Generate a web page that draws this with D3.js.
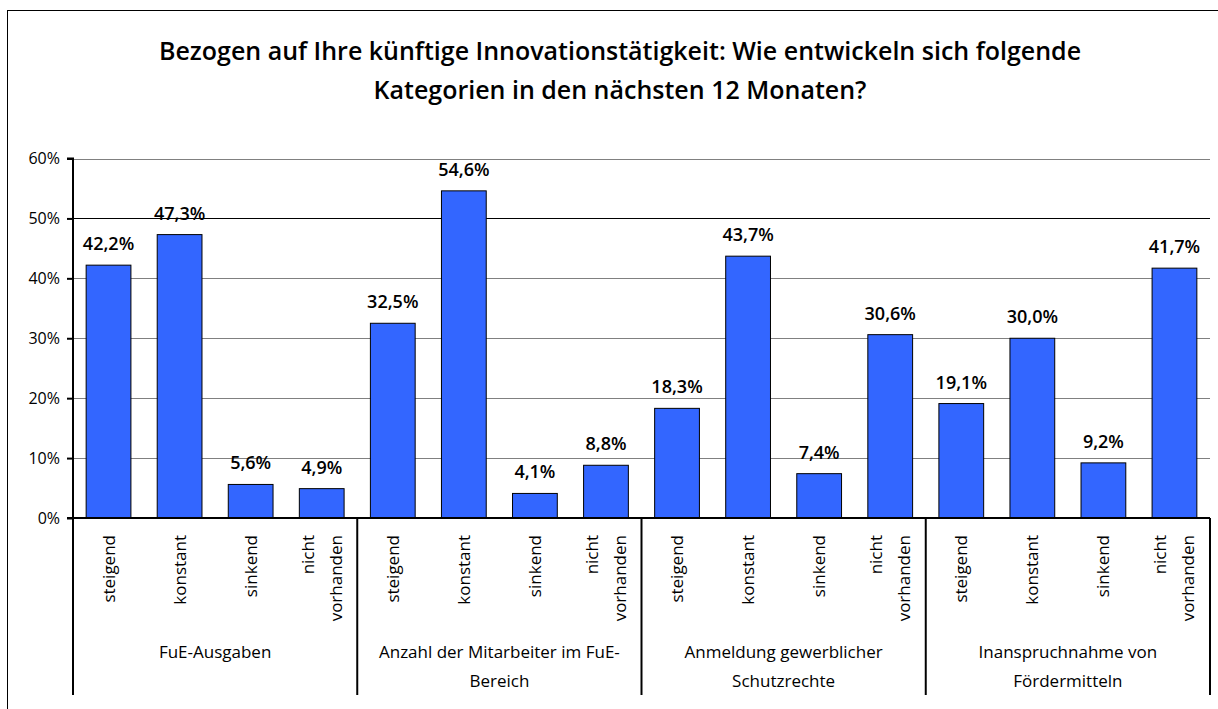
<!DOCTYPE html>
<html>
<head>
<meta charset="utf-8">
<script src="https://cdn.jsdelivr.net/npm/d3@7"></script>
<style>
  body { margin: 0; background: #fff; }
  text { font-family: "Open Sans", sans-serif; fill: #000; }
</style>
</head>
<body>
<div id="chart"></div>
<script>
// chart data
const groups = ["FuE-Ausgaben", "Anzahl der Mitarbeiter im FuE-Bereich", "Anmeldung gewerblicher Schutzrechte", "Inanspruchnahme von Fördermitteln"];
const groupLines = [["FuE-Ausgaben"], ["Anzahl der Mitarbeiter im FuE-", "Bereich"], ["Anmeldung gewerblicher", "Schutzrechte"], ["Inanspruchnahme von", "Fördermitteln"]];
const answers = ["steigend", "konstant", "sinkend", "nicht vorhanden"];
const answerLines = [["steigend"], ["konstant"], ["sinkend"], ["nicht", "vorhanden"]];
const values = [
  [42.2, 47.3, 5.6, 4.9],
  [32.5, 54.6, 4.1, 8.8],
  [18.3, 43.7, 7.4, 30.6],
  [19.1, 30.0, 9.2, 41.7]
];
const yTicks = [0, 10, 20, 30, 40, 50, 60];
const titleLines = ["Bezogen auf Ihre künftige Innovationstätigkeit: Wie entwickeln sich folgende", "Kategorien in den nächsten 12 Monaten?"];

const width = 1218, height = 709;
const plotLeft = 73, plotRight = 1210, plotTop = 158.5, plotBottom = 518;

const rows = [];
groups.forEach((g, gi) => {
  answers.forEach((a, ai) => {
    rows.push({ key: gi + "-" + ai, group: gi, answer: ai, value: values[gi][ai] });
  });
});

const svg = d3.select("#chart").append("svg")
  .attr("width", width)
  .attr("height", height);

// outer frame
svg.append("rect")
  .attr("x", 7.5).attr("y", 10.5)
  .attr("width", 1300).attr("height", 800)
  .attr("fill", "none").attr("stroke", "#000").attr("stroke-width", 1);

svg.append("g").selectAll("text")
  .data(titleLines)
  .enter().append("text")
  .attr("x", 620)
  .attr("y", (d, i) => 60 + i * 38.5)
  .attr("text-anchor", "middle")
  .attr("font-size", 25)
  .attr("font-weight", 600)
  .text(d => d);

const x = d3.scaleBand()
  .domain(rows.map(d => d.key))
  .range([plotLeft, plotRight])
  .paddingInner(0.37)
  .paddingOuter(0.185);

const xg = d3.scaleBand()
  .domain(groups)
  .range([plotLeft, plotRight]);

const y = d3.scaleLinear()
  .domain([0, 60])
  .range([plotBottom, plotTop]);

// gridlines
svg.append("g").selectAll("line")
  .data(yTicks.filter(d => d > 0))
  .enter().append("line")
  .attr("x1", plotLeft).attr("x2", plotRight)
  .attr("y1", d => Math.round(y(d)) + 0.5).attr("y2", d => Math.round(y(d)) + 0.5)
  .attr("stroke", d => d === 50 ? "#000" : "#808080").attr("stroke-width", 1);

// bars
svg.append("g").selectAll("rect")
  .data(rows)
  .enter().append("rect")
  .attr("x", d => x(d.key))
  .attr("y", d => y(d.value))
  .attr("width", x.bandwidth())
  .attr("height", d => y(0) - y(d.value))
  .attr("fill", "#3366ff")
  .attr("stroke", "#000")
  .attr("stroke-width", 1);

// value labels
svg.append("g").selectAll("text")
  .data(rows)
  .enter().append("text")
  .attr("x", d => x(d.key) + x.bandwidth() / 2)
  .attr("y", d => y(d.value) - 15)
  .attr("text-anchor", "middle")
  .attr("font-size", 18)
  .attr("font-weight", 600)
  .text(d => d.value.toFixed(1).replace(".", ",") + "%");

// y axis
const yAxis = svg.append("g")
  .attr("transform", `translate(${plotLeft},0)`)
  .call(d3.axisLeft(y).tickValues(yTicks).tickFormat(d => d + "%").tickSize(6).tickPadding(7));
yAxis.select(".domain").attr("stroke-width", 2).attr("d", `M-6,${plotTop}H0V${plotBottom}`);
yAxis.selectAll(".tick line").attr("stroke-width", 2);
yAxis.selectAll(".tick text")
  .attr("font-family", "Open Sans, sans-serif")
  .attr("font-size", 16)
  .attr("fill", "#000");

// x axis baseline
svg.append("line")
  .attr("x1", plotLeft - 6).attr("x2", plotRight)
  .attr("y1", plotBottom).attr("y2", plotBottom)
  .attr("stroke", "#000").attr("stroke-width", 2);

// group separators
svg.append("g").selectAll("line")
  .data(groups.map(g => xg(g)).concat([plotRight]))
  .enter().append("line")
  .attr("x1", d => d).attr("x2", d => d)
  .attr("y1", plotBottom).attr("y2", 695)
  .attr("stroke", "#000").attr("stroke-width", 2);

// answer labels (rotated)
const ans = svg.append("g").selectAll("g")
  .data(rows)
  .enter().append("g")
  .attr("transform", d => `translate(${x(d.key) + x.bandwidth() / 2},535) rotate(-90)`);
ans.each(function (d) {
  const lines = answerLines[d.answer];
  const n = lines.length;
  d3.select(this).selectAll("text")
    .data(lines)
    .enter().append("text")
    .attr("x", 0)
    .attr("y", (l, i) => (i - (n - 1) / 2) * 28 + 6)
    .attr("text-anchor", "end")
    .attr("font-size", 17)
    .text(l => l);
});

// group labels
svg.append("g").selectAll("g")
  .data(groups)
  .enter().append("g")
  .each(function (g, gi) {
    d3.select(this).selectAll("text")
      .data(groupLines[gi])
      .enter().append("text")
      .attr("x", xg(g) + xg.bandwidth() / 2)
      .attr("y", (l, i) => 658 + i * 29)
      .attr("text-anchor", "middle")
      .attr("font-size", 17)
      .text(l => l);
  });
</script>
</body>
</html>
